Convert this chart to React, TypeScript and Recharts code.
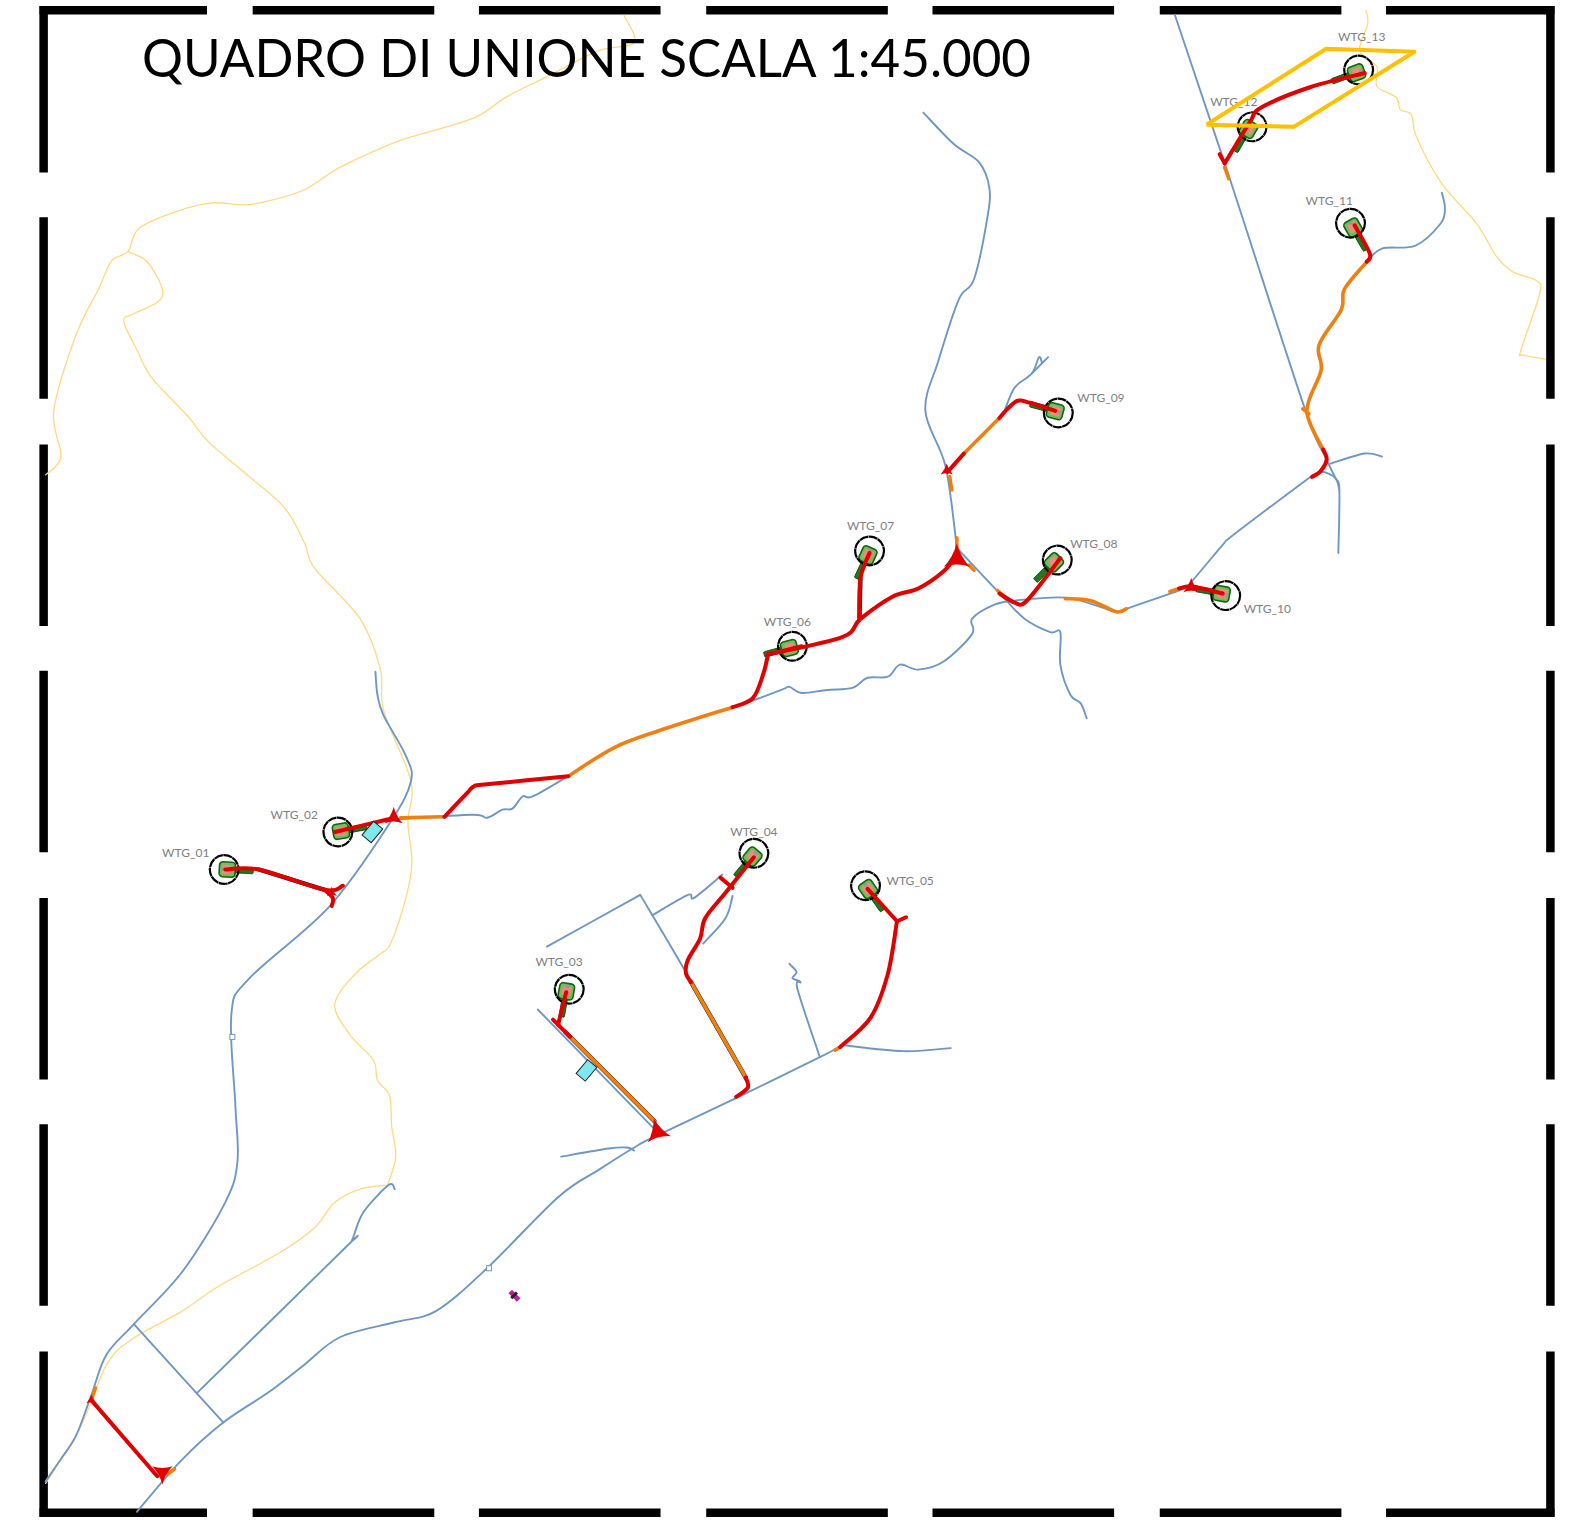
import React from "react";
import { ScatterChart, Scatter, XAxis, YAxis } from "recharts";

const WIDTH = 1591, HEIGHT = 1528;
const DOMAIN_X = 1568, DOMAIN_Y = 1506;

const titleText = "QUADRO DI UNIONE SCALA 1:45.000";
const titlePoint = [[140, 76]];

const frameTop = [[39,204],[249,428],[472,651],[696,875],[919,1098],[1143,1322],[1366,1532]];
const frameSide = [[6,170],[214,393],[438,617],[661,840],[885,1064],[1108,1287],[1332,1495]];
const frameRows = [10, 1491];
const frameCols = [43, 1528];

const blueRoads = [
  [[135,1490],[178,1440],[220,1402],[265,1372],[300,1345],[335,1318],[390,1303],[430,1292],[480,1250],[550,1180],[590,1153],[630,1128],[650,1118],[730,1080],[808,1042],[830,1030]],
  [[830,1030],[890,1036],[937,1033]],
  [[45,1460],[60,1438],[75,1415],[90,1375],[105,1335],[132,1305],[180,1253],[222,1185],[234,1145],[232,1090],[228,1000],[245,965],[325,893],[385,810],[405,770],[400,745],[378,705],[372,685],[370,662]],
  [[132,1305],[220,1402]],
  [[194,1373],[340,1230],[347,1222],[358,1195],[383,1168],[389,1172]],
  [[385,808],[465,803],[480,806],[495,798],[505,797],[515,785],[525,785],[560,765]],
  [[553,1140],[600,1132],[618,1131],[625,1134]],
  [[539,933],[631,882]],
  [[631,882],[677,960],[735,1065]],
  [[643,902],[678,882],[684,885],[712,862]],
  [[693,930],[715,905],[722,883]],
  [[778,950],[785,958],[781,964],[789,968],[786,975],[808,1042]],
  [[530,995],[650,1118]],
  [[725,697],[770,680],[778,677],[790,683],[815,680],[840,678],[855,668],[875,667],[887,655],[905,660],[930,652],[958,625],[958,610],[980,596],[1000,592],[1050,589],[1090,600],[1100,603],[1110,600],[1165,581],[1172,576],[1205,537],[1212,530],[1250,501],[1293,469]],
  [[1293,469],[1303,465],[1316,471],[1320,483]],
  [[1311,457],[1345,447],[1362,450]],
  [[1158,15],[1210,170],[1285,400],[1306,450],[1316,471],[1320,483],[1319,545]],
  [[1347,258],[1362,245],[1395,242],[1420,220],[1424,205],[1421,190]],
  [[910,111],[940,142],[965,160],[975,185],[973,215],[960,275],[945,295],[925,355],[912,405],[932,460],[943,540]],
  [[943,540],[990,590],[1010,610],[1035,623],[1045,623],[1045,655],[1055,685],[1065,693],[1071,708]],
  [[990,405],[1000,382],[1017,368],[1024,352],[1027,358]],
  [[1017,368],[1033,352]],
];

const yellowTracks = [
  [[45,468],[60,450],[53,405],[75,330],[97,285],[110,257],[126,248],[137,225],[175,208],[210,200],[240,202],[265,198],[300,187],[335,165],[390,140],[430,128],[470,115],[500,95],[540,75],[590,50],[625,42],[615,15]],
  [[126,248],[145,258],[160,285],[155,298],[130,310],[122,317],[135,345],[150,373],[185,410],[205,435],[240,465],[280,500],[300,535],[310,560],[355,610],[375,660],[378,700],[405,770],[402,810],[406,850],[400,885],[385,930],[375,940],[350,960],[330,990],[345,1020],[368,1045],[372,1065],[384,1080],[386,1110],[390,1140],[382,1168]],
  [[382,1168],[355,1172],[330,1185],[310,1210],[275,1235],[215,1268],[180,1292],[130,1320],[105,1345],[80,1405],[45,1462]],
  [[1346,10],[1348,23],[1340,50],[1357,66],[1357,85],[1376,96],[1380,108],[1391,113],[1396,135],[1421,181],[1455,220],[1475,253],[1491,268],[1515,277],[1517,291],[1499,345],[1501,350],[1523,354]],
];

const goldFrame = [[1189,123],[1307,48],[1394,51],[1275,125],[1189,123]];

const blackEdges = [
  [[557,1017],[645,1105]],
  [[681,968],[735,1062]],
  [[255,857],[320,877]],
  [[848,570],[847,610]],
];

const orangeRoads = [
  [[560,765],[605,737],[650,720],[722,697]],
  [[950,447],[985,412]],
  [[936,470],[938,483]],
  [[943,530],[943,540]],
  [[955,557],[960,562]],
  [[983,582],[992,590]],
  [[1050,590],[1075,592],[1100,603],[1110,600]],
  [[1153,583],[1162,580]],
  [[1347,258],[1325,285],[1322,305],[1300,340],[1302,365],[1288,405],[1304,443]],
  [[1284,403],[1290,408]],
  [[1207,165],[1211,176]],
  [[681,968],[735,1062]],
  [[557,1017],[645,1105]],
  [[828,1032],[823,1035]],
  [[90,1380],[94,1368]],
  [[165,1453],[172,1448]],
  [[395,806],[438,805]],
];

const redRoads = [
  [[222,857],[255,857],[320,877],[338,873]],
  [[320,877],[328,885],[327,893]],
  [[330,820],[385,807]],
  [[438,805],[460,782],[467,775],[480,773],[560,765]],
  [[722,697],[742,688],[752,665],[757,645]],
  [[757,645],[790,637]],
  [[757,645],[830,628],[848,610],[880,588],[905,580],[930,563],[943,547]],
  [[857,545],[848,570],[847,610]],
  [[985,585],[1000,594],[1010,594],[1030,570],[1045,550]],
  [[1162,580],[1175,578],[1205,585]],
  [[1335,222],[1350,250],[1347,258]],
  [[1304,443],[1307.5,453],[1301,465],[1293,470]],
  [[1345,72],[1291,86],[1243,106],[1232,120],[1207,161]],
  [[1207,161],[1202,152]],
  [[934,465],[950,447]],
  [[985,412],[992,404],[1003,395],[1015,397],[1040,405]],
  [[743,845],[715,880],[695,905],[690,925],[678,946],[676,959],[681,968]],
  [[710,865],[722,875]],
  [[735,1062],[737,1072],[725.5,1081]],
  [[855,876],[884,908]],
  [[884,908],[893,904]],
  [[884,908],[875,960],[858,1003],[828,1032]],
  [[558,978],[555,990],[550,1010]],
  [[545,1005],[562,1022]],
  [[90,1380],[155,1455]],
];

const junctions = [
  [943,551,13,0],[648,1116,12,-15],[160,1451,10,180],[388,806,9,0],[1174,579,8,0],
  [933,464,6,0],[90,1380,5,0],[327,880,5,0],
];

const turbineNames = ["WTG_01","WTG_02","WTG_03","WTG_04","WTG_05","WTG_06","WTG_07","WTG_08","WTG_09","WTG_10","WTG_11","WTG_12","WTG_13"];
const turbineCircles = [[221,857],[333,820],[561,975],[743,841],[853,873],[781,637],[857,543],[1042,552],[1043,407],[1208,587],[1331,220],[1234,125],[1339,69]];
const turbineCores = [[225,857],[337,819],[558,978],[741,845],[856,877],[777,639],[855,548],[1038,555],[1039,405],[1203,585],[1334,225],[1230,128],[1336,72]];
const turbineAngles = [3,-10,100,130,55,165,115,135,195,190,60,120,160];
const labelPoints = [[183,845],[290,807],[551,952],[743,824],[897,872],[776,617],[858,522],[1078,540],[1085,396],[1249,604],[1310,202],[1216,104],[1342,40]];

const padPoints = [[367,820],[578,1055]];
const tinySquares = [[482,1250],[229,1022]];
const markerPoint = [[507,1277]];

const pts = (a: number[][]) => a.map(([x, y]) => ({ x, y }));
const none = () => null;

const smooth = (ctx: any) => {
  let p: number[][] = [];
  return {
    areaStart() {},
    areaEnd() {},
    lineStart() { p = []; },
    point(x: number, y: number) { p.push([+x, +y]); },
    lineEnd() {
      if (!p.length) return;
      ctx.moveTo(p[0][0], p[0][1]);
      for (let i = 0; i < p.length - 1; i++) {
        const a = p[Math.max(i - 1, 0)], b = p[i], c = p[i + 1], d = p[Math.min(i + 2, p.length - 1)];
        ctx.bezierCurveTo(
          b[0] + (c[0] - a[0]) / 6, b[1] + (c[1] - a[1]) / 6,
          c[0] - (d[0] - b[0]) / 6, c[1] - (d[1] - b[1]) / 6,
          c[0], c[1],
        );
      }
    },
  };
};

const TitleShape = (p: any) => (
  <text x={p.cx} y={p.cy} fontFamily="Lato, 'Open Sans', sans-serif" fontSize={52} fill="#000" textLength={889} lengthAdjust="spacingAndGlyphs">{titleText}</text>
);
const LabelShape = (p: any) => (
  <text x={p.cx} y={p.cy} textAnchor="middle" fontFamily="Lato, 'Open Sans', sans-serif" fontSize={12} fill="#7f7f7f">{p.payload.name}</text>
);
const CircleShape = (p: any) => (
  <circle cx={p.cx} cy={p.cy} r={14.4} fill="none" stroke="#000" strokeWidth={2.2} strokeDasharray="9 0.5" />
);
const TurbineShape = (p: any) => (
  <g transform={`translate(${p.cx},${p.cy}) rotate(${p.payload.angle})`}>
    <rect x={5} y={-2.5} width={20} height={5.5} rx={1} fill="#1f7a1f" stroke="#0c3d0c" strokeWidth={0.8} />
    <rect x={-9} y={-7.5} width={16} height={15} rx={3.5} fill="#6fbf5a" stroke="#136313" strokeWidth={1.6} />
    <rect x={-6} y={-4.5} width={9} height={9} fill="#ef8a80" />
    <rect x={-7.5} y={-2} width={3.5} height={3.5} fill="#999" />
  </g>
);
const JunctionShape = (p: any) => {
  const s = p.payload.size;
  return (
    <path
      transform={`translate(${p.cx},${p.cy}) rotate(${p.payload.rot})`}
      d={`M0,${-s * 1.2} Q${s * 0.3},${-s * 0.15} ${s},${s * 0.6} Q0,${s * 0.25} ${-s},${s * 0.6} Q${-s * 0.3},${-s * 0.15} 0,${-s * 1.2}Z`}
      fill="#e00000"
    />
  );
};
const PadShape = (p: any) => (
  <rect transform={`translate(${p.cx},${p.cy}) rotate(40)`} x={-6} y={-9} width={12} height={18} fill="#7fe8ee" stroke="#222" strokeWidth={1} />
);
const SquareShape = (p: any) => (
  <rect x={p.cx - 2.5} y={p.cy - 2.5} width={5} height={5} fill="#fff" stroke="#6f97c4" strokeWidth={1} />
);
const MarkerShape = (p: any) => (
  <g transform={`translate(${p.cx},${p.cy}) rotate(45)`}>
    <rect x={-6} y={-2.5} width={12} height={5} fill="#c0209a" />
    <rect x={-2} y={-4} width={3} height={8} fill="#222" />
  </g>
);

const line = (key: string, d: number[][], stroke: string, w: number, cap = "round", curve: any = smooth) => (
  <Scatter
    key={key}
    data={pts(d)}
    line={{ stroke, strokeWidth: w, strokeLinecap: cap, strokeLinejoin: "round", fill: "none" } as any}
    lineJointType={curve}
    shape={none as any}
    isAnimationActive={false}
    legendType="none"
  />
);

const frameSegments: number[][][] = [
  ...frameRows.flatMap((y) => frameTop.map(([a, b]) => [[a, y], [b, y]])),
  ...frameCols.flatMap((x) => frameSide.map(([a, b]) => [[x, a], [x, b]])),
];

export default function App() {
  return (
    <div style={{ position: "absolute", left: 0, top: 0, width: WIDTH, height: HEIGHT, background: "#fff" }}>
      <ScatterChart width={WIDTH} height={HEIGHT} margin={{ top: 0, right: 0, bottom: 0, left: 0 }}>
        <XAxis type="number" dataKey="x" domain={[0, DOMAIN_X]} hide allowDataOverflow />
        <YAxis type="number" dataKey="y" domain={[0, DOMAIN_Y]} reversed hide allowDataOverflow />
        {frameSegments.map((s, i) => line(`f${i}`, s, "#000", 8.5, "butt", "linear"))}
        {yellowTracks.map((s, i) => line(`y${i}`, s, "#ffd980", 1.3))}
        {blueRoads.map((s, i) => line(`b${i}`, s, "#6f97c4", 1.9))}
        <Scatter
          data={turbineCores.map(([x, y], i) => ({ x, y, angle: turbineAngles[i] }))}
          shape={TurbineShape as any}
          isAnimationActive={false}
        />
        <Scatter data={pts(turbineCircles)} shape={CircleShape as any} isAnimationActive={false} />
        {blackEdges.map((s, i) => line(`k${i}`, s, "#222", 4.4))}
        {orangeRoads.map((s, i) => line(`o${i}`, s, "#f07f12", 3.6))}
        {redRoads.map((s, i) => line(`r${i}`, s, "#e00000", 4))}
        <Scatter
          data={junctions.map(([x, y, size, rot]) => ({ x, y, size, rot }))}
          shape={JunctionShape as any}
          isAnimationActive={false}
        />
        <Scatter data={pts(padPoints)} shape={PadShape as any} isAnimationActive={false} />
        <Scatter data={pts(tinySquares)} shape={SquareShape as any} isAnimationActive={false} />
        <Scatter data={pts(markerPoint)} shape={MarkerShape as any} isAnimationActive={false} />
        <Scatter
          data={labelPoints.map(([x, y], i) => ({ x, y, name: turbineNames[i] }))}
          shape={LabelShape as any}
          isAnimationActive={false}
        />
        {line("gold", goldFrame, "#ffc000", 4, "butt", "linear")}
        <Scatter data={pts(titlePoint)} shape={TitleShape as any} isAnimationActive={false} />
      </ScatterChart>
    </div>
  );
}
